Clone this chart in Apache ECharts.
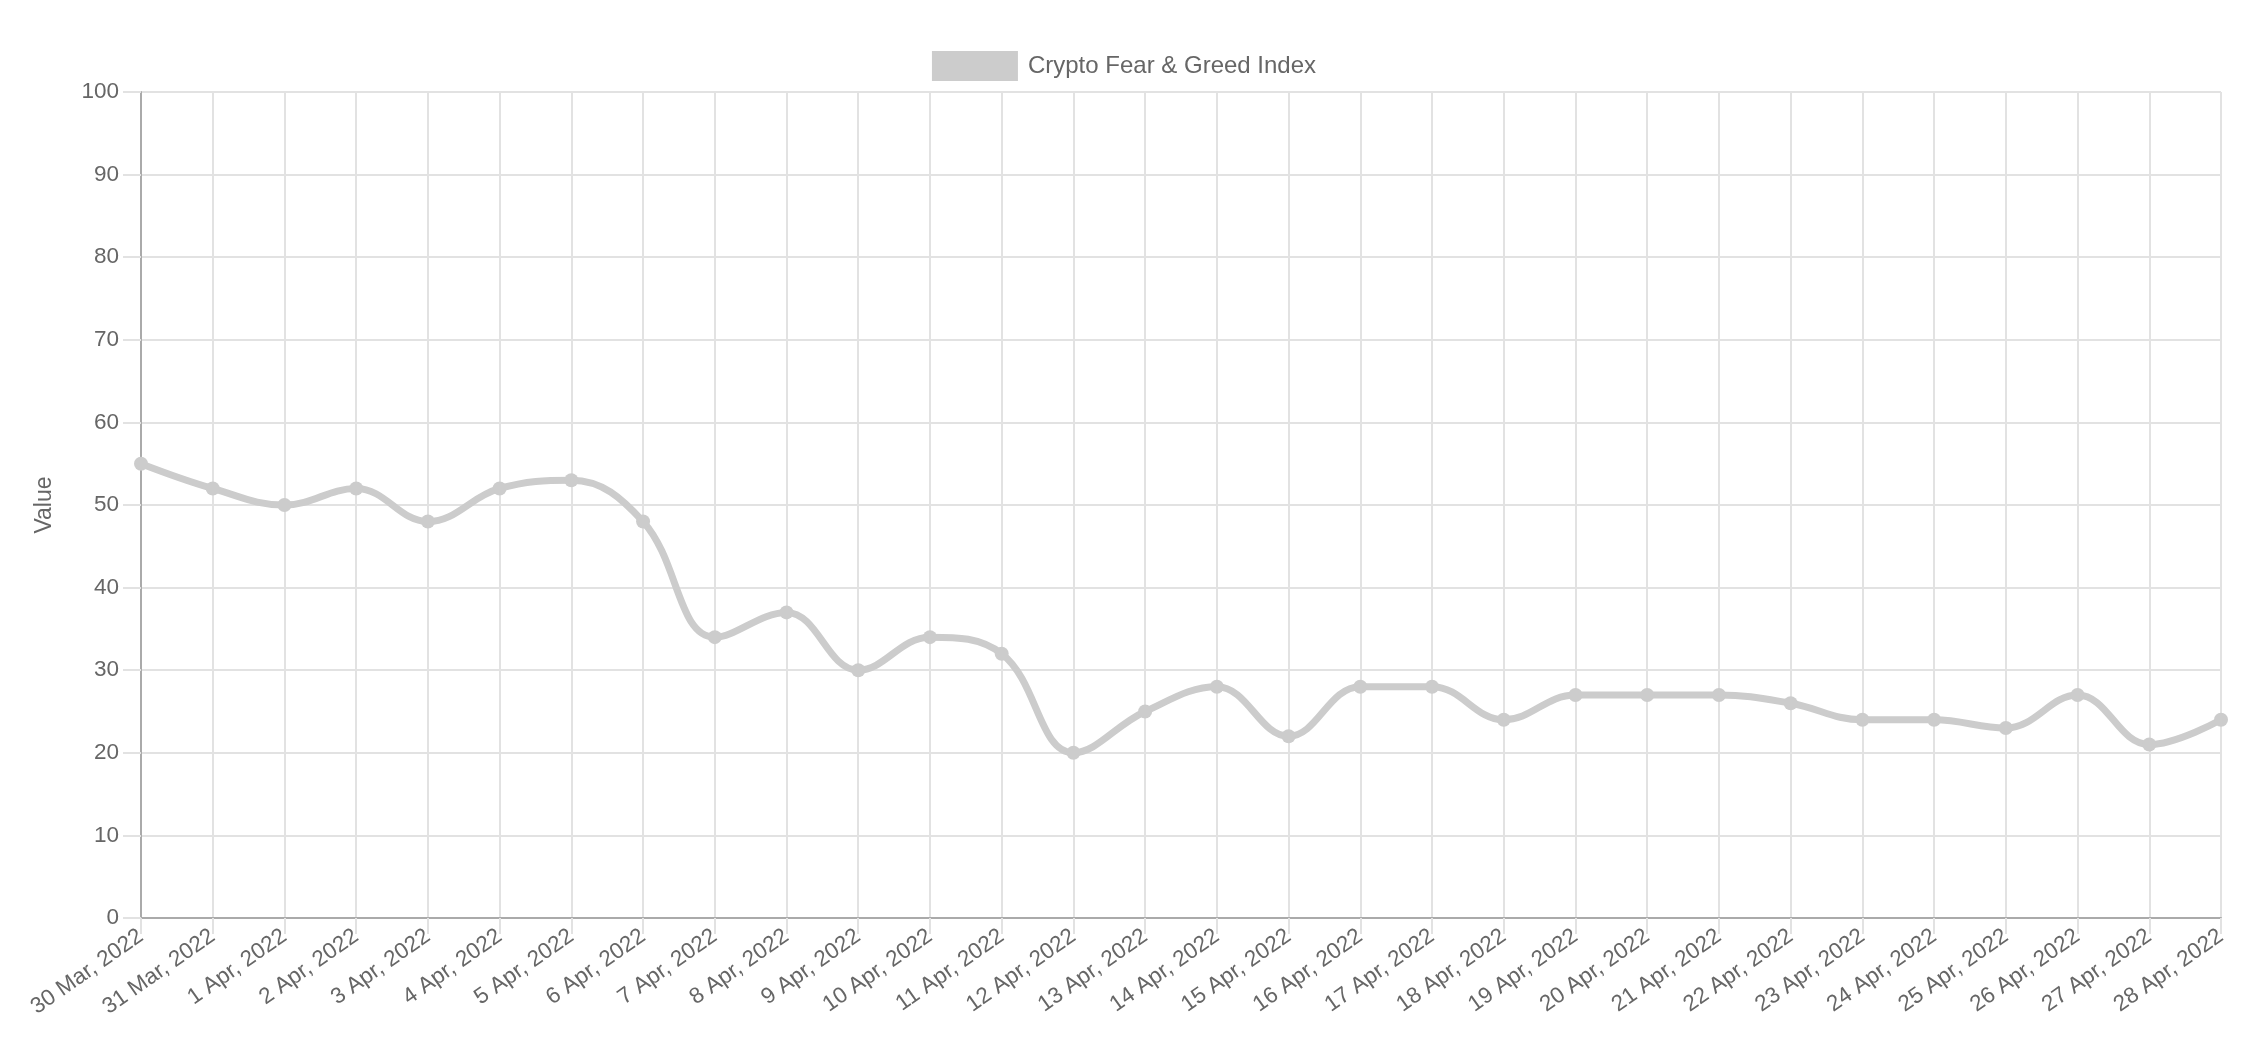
<!DOCTYPE html>
<html>
<head>
<meta charset="utf-8">
<script src="https://cdn.jsdelivr.net/npm/echarts@6/dist/echarts.min.js"></script>
<style>
html,body{margin:0;padding:0;background:#fff;}
#chart{width:2248px;height:1058px;}
</style>
</head>
<body>
<div id="chart"></div>
<script>
const categories = ["30 Mar, 2022","31 Mar, 2022","1 Apr, 2022","2 Apr, 2022","3 Apr, 2022","4 Apr, 2022","5 Apr, 2022","6 Apr, 2022","7 Apr, 2022","8 Apr, 2022","9 Apr, 2022","10 Apr, 2022","11 Apr, 2022","12 Apr, 2022","13 Apr, 2022","14 Apr, 2022","15 Apr, 2022","16 Apr, 2022","17 Apr, 2022","18 Apr, 2022","19 Apr, 2022","20 Apr, 2022","21 Apr, 2022","22 Apr, 2022","23 Apr, 2022","24 Apr, 2022","25 Apr, 2022","26 Apr, 2022","27 Apr, 2022","28 Apr, 2022"];
const values = [55,52,50,52,48,52,53,48,34,37,30,34,32,20,25,28,22,28,28,24,27,27,27,26,24,24,23,27,21,24];
const seriesName = "Crypto Fear & Greed Index";
const yAxisName = "Value";

const font = "Liberation Sans, Arial, Helvetica, sans-serif";
const chart = echarts.init(document.getElementById('chart'));
chart.setOption({
  animation: false,
  backgroundColor: '#ffffff',
  textStyle: { fontFamily: font, color: '#666' },
  legend: {
    top: 46,
    left: 'center',
    icon: 'rect',
    itemWidth: 86,
    itemHeight: 30,
    itemGap: 10,
    textStyle: { fontSize: 24, color: '#666', fontFamily: font, padding: [0,0,0,5] },
    data: [{ name: seriesName, itemStyle: { color: '#cccccc' } }]
  },
  grid: { left: 141, right: 27, top: 92, bottom: 140, containLabel: false },
  xAxis: {
    type: 'category',
    data: categories,
    boundaryGap: false,
    axisLine: { show: true, lineStyle: { color: '#aaaaaa', width: 2 } },
    axisTick: { show: true, length: 16, lineStyle: { color: '#e2e2e2', width: 2 } },
    splitLine: { show: true, lineStyle: { color: '#e2e2e2', width: 2 } },
    axisLabel: { rotate: 35, fontSize: 22.5, color: '#666', fontFamily: font, margin: 16, interval: 0 }
  },
  yAxis: {
    type: 'value',
    min: 0, max: 100, interval: 10,
    name: yAxisName,
    nameLocation: 'middle',
    nameGap: 85,
    nameTextStyle: { fontSize: 23, color: '#666', fontFamily: font },
    axisLine: { show: true, lineStyle: { color: '#aaaaaa', width: 2 } },
    axisTick: { show: true, length: 18, lineStyle: { color: '#e2e2e2', width: 2 } },
    splitLine: { show: true, lineStyle: { color: '#e2e2e2', width: 2 } },
    axisLabel: { fontSize: 22.5, color: '#666', fontFamily: font, margin: 22 }
  },
  series: [{
    name: seriesName,
    type: 'line',
    data: values,
    smooth: 0.4,
    symbol: 'circle',
    symbolSize: 14,
    itemStyle: { color: '#cccccc' },
    lineStyle: { color: '#cccccc', width: 7 }
  }]
});
</script>
</body>
</html>
